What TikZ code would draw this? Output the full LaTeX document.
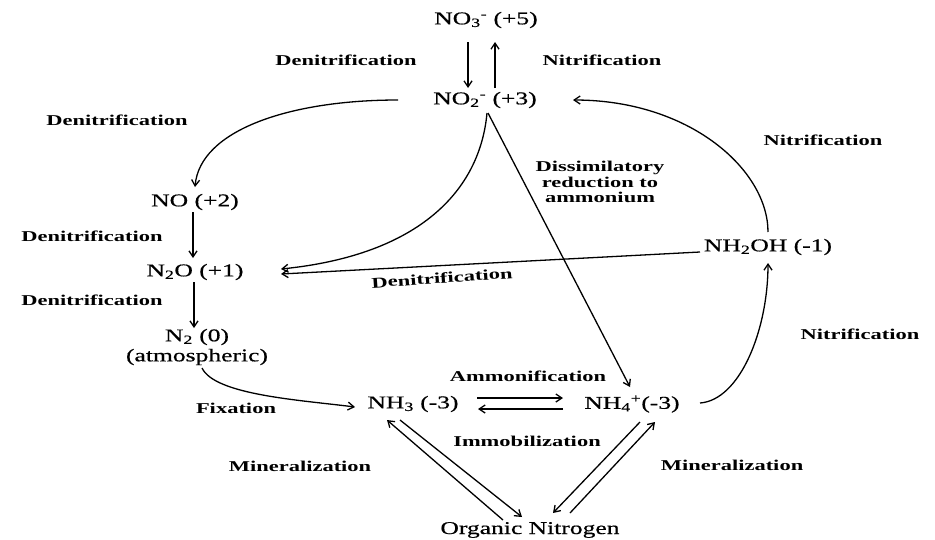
\documentclass[tikz,border=0pt]{standalone}
\usepackage{fontspec}
\setmainfont{Liberation Serif}
\newfontfamily\chemfont[FakeStretch=1.42,FakeBold=0.6]{Liberation Serif}
\newfontfamily\procfont[FakeStretch=1.5]{Liberation Serif Bold}
\usetikzlibrary{arrows.meta,calc}
\tikzset{
  chem/.style={inner sep=0pt, font=\chemfont\fontsize{18}{20}\selectfont},
  proc/.style={inner sep=0pt, font=\procfont\fontsize{15}{15.5}\selectfont},
  arr/.style={line width=1.3pt, -{Straight Barb[length=6pt,width=8pt]}},
}
\begin{document}
\begin{tikzpicture}[x=1pt,y=-1pt]
\useasboundingbox (0,0) rectangle (935,539);
% species
\node[chem] (no3) at (486,20) {NO\textsubscript{3}\textsuperscript{-} (+5)};
\node[chem] (no2) at (485,100) {NO\textsubscript{2}\textsuperscript{-} (+3)};
\node[chem] (no) at (195,202) {NO (+2)};
\node[chem] (n2o) at (195,272) {N\textsubscript{2}O (+1)};
\node[chem, align=center] (n2) at (197,347) {N\textsubscript{2} (0)\\(atmospheric)};
\node[chem] (nh3) at (413,404) {NH\textsubscript{3} (-3)};
\node[chem] (nh4) at (632,404) {NH\textsubscript{4}\textsuperscript{+}(-3)};
\node[chem] (nh2oh) at (768,247) {NH\textsubscript{2}OH (-1)};
\node[chem] (org) at (530,530) {Organic Nitrogen};
% process labels
\node[proc] (l1) at (346,60) {Denitrification};
\node[proc] (l2) at (602,60) {Nitrification};
\node[proc] (l3) at (117,120) {Denitrification};
\node[proc] (l4) at (92,236) {Denitrification};
\node[proc] (l5) at (92,300) {Denitrification};
\node[proc] (l6) at (823,140) {Nitrification};
\node[proc, align=center] (l7) at (600,182) {Dissimilatory\\reduction to\\ammonium};
\node[proc, rotate=4] (l8) at (442,278) {Denitrification};
\node[proc] (l9) at (860,334) {Nitrification};
\node[proc] (l10) at (528,376) {Ammonification};
\node[proc] (l11) at (527,441) {Immobilization};
\node[proc] (l12) at (236,408) {Fixation};
\node[proc] (l13) at (300,466) {Mineralization};
\node[proc] (l14) at (732,465) {Mineralization};
% connectors
\draw[arr] ($(no3)+(-18,22)$) -- ($(no2)+(-17,-12)$);
\draw[arr] ($(no2)+(10,-12)$) -- ($(no3)+(9,22)$);
\draw[arr] ($(no2)+(-87,0)$) .. controls ($(no2)+(-195,0)$) and ($(no)+(5,-72)$) .. ($(no)+(0,-15)$);
\draw[arr] ($(no)+(-2,10)$) -- ($(n2o)+(-2,-14)$);
\draw[arr] ($(n2o)+(-1,10)$) -- ($(n2)+(-3,-19)$);
\draw[arr] ($(no2)+(2,13)$) .. controls ($(no2)+(-5,90)$) and ($(n2o)+(225,-17)$) .. ($(n2o)+(86,-3)$);
\draw[arr] ($(nh2oh)+(-68,5)$) -- ($(n2o)+(86,2)$);
\draw[arr] ($(nh2oh)+(0,-15)$) .. controls ($(nh2oh)+(0,-77)$) and ($(no2)+(205,0)$) .. ($(no2)+(88,0)$);
\draw[arr] ($(nh4)+(68,-1)$) .. controls ($(nh4)+(108,-4)$) and ($(nh2oh)+(0,83)$) .. ($(nh2oh)+(0,16)$);
\draw[arr] ($(no2)+(3,13)$) -- ($(nh4)+(-2,-17)$);
\draw[arr] ($(n2)+(5,21)$) .. controls ($(n2)+(18,48)$) and ($(nh3)+(-113,-4)$) .. ($(nh3)+(-58,3)$);
\draw[arr] ($(nh3)+(64,-6)$) -- ($(nh4)+(-69,-6)$);
\draw[arr] ($(nh4)+(-69,5)$) -- ($(nh3)+(65,5)$);
\draw[arr] ($(org)+(-27,-10)$) -- ($(nh3)+(-26,16)$);
\draw[arr] ($(nh3)+(-13,16)$) -- ($(org)+(-8,-13)$);
\draw[arr] ($(org)+(40,-17)$) -- ($(nh4)+(23,18)$);
\draw[arr] ($(nh4)+(8,18)$) -- ($(org)+(23,-17)$);
\end{tikzpicture}
\end{document}
